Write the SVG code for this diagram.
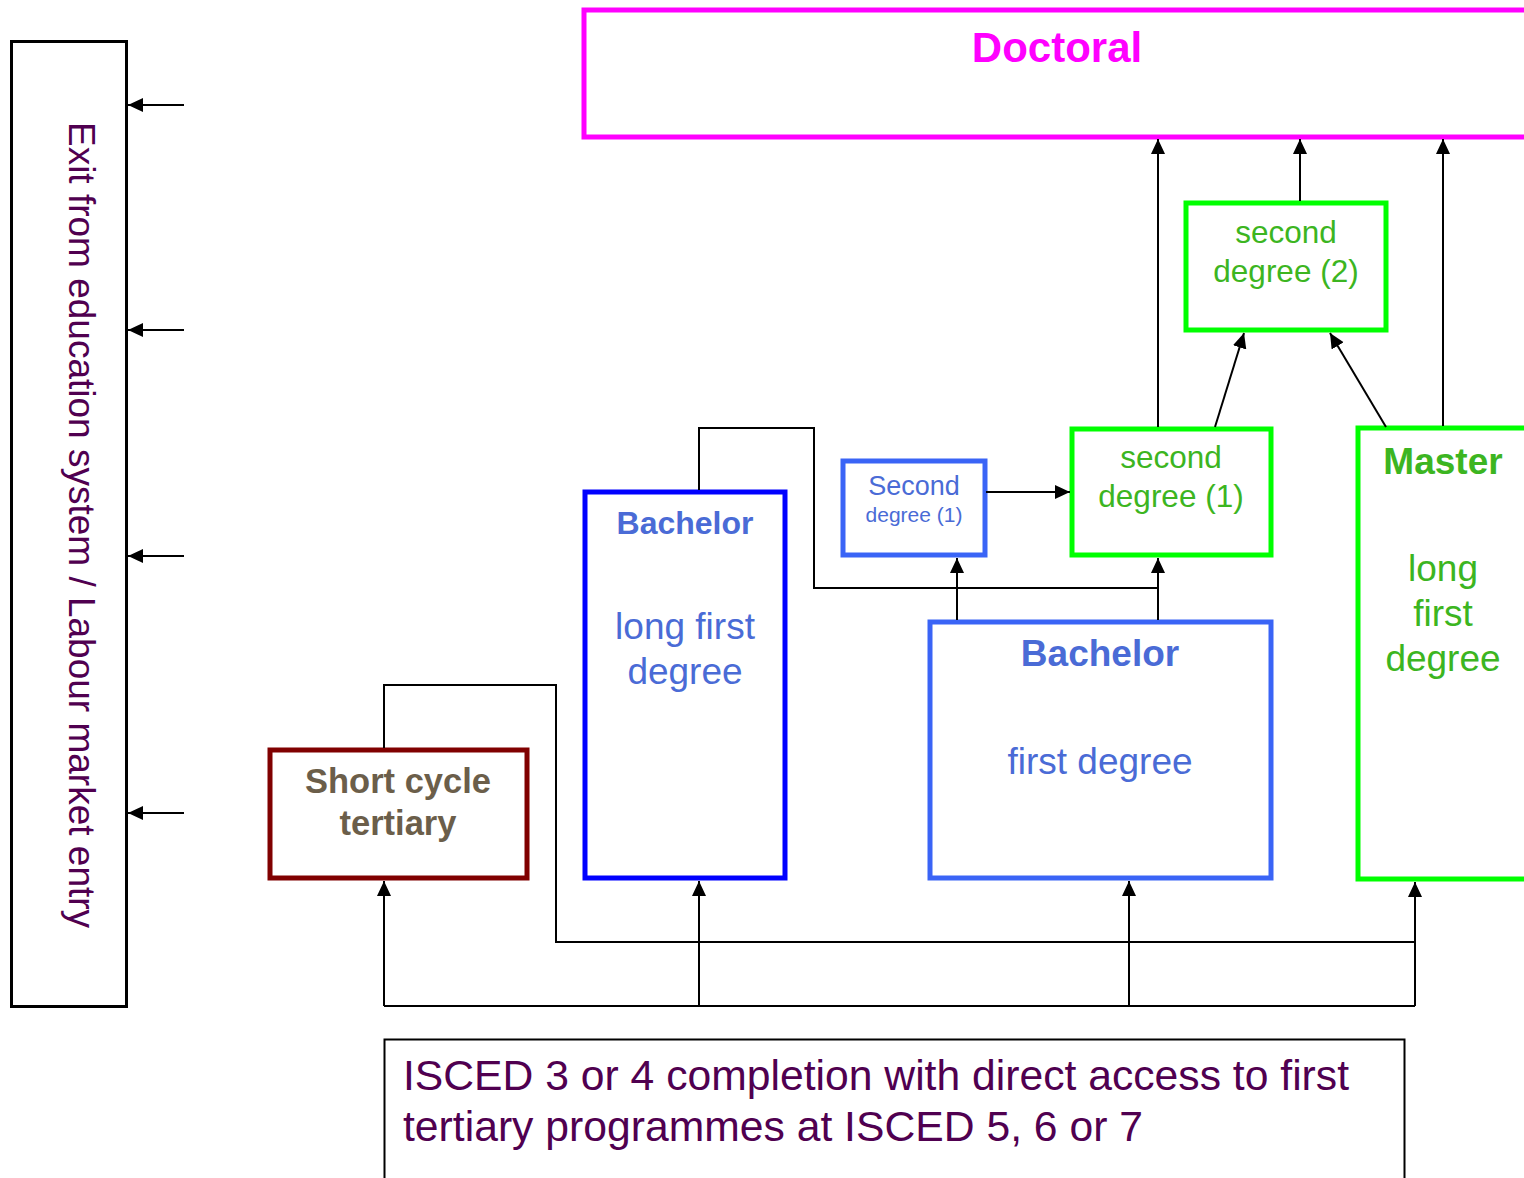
<svg xmlns="http://www.w3.org/2000/svg" width="1524" height="1178" viewBox="0 0 1524 1178">
<style>
text{font-family:"Liberation Sans",Arial,sans-serif;text-anchor:middle}
.b{font-weight:bold}
.c{fill:none;stroke:#000;stroke-width:2}
.box{fill:#fff}
.grn{fill:#3cb521}
.blu{fill:#4a6bd6}
.pur{fill:#500050}
</style>
<defs>
<marker id="ah" markerUnits="userSpaceOnUse" markerWidth="18" markerHeight="16" refX="15" refY="7" orient="auto">
<path d="M0,0 L15,7 L0,14 Z" fill="#000"/>
</marker>
</defs>
<rect width="1524" height="1178" fill="#fff"/>

<g id="exit">
<rect x="11.5" y="41.5" width="115" height="965" class="box" stroke="#000" stroke-width="3"/>
<text class="pur" font-size="37" transform="translate(80,525) rotate(90)" y="11">Exit from education system / Labour market entry</text>
</g>

<g id="doctoral">
<rect x="584" y="10" width="960" height="127" class="box" stroke="#ff00ff" stroke-width="5"/>
<text class="b" font-size="42" fill="#ff00ff" x="1057" y="62">Doctoral</text>
</g>

<g id="second2">
<rect x="1186" y="203" width="200" height="127" class="box" stroke="#00ff00" stroke-width="5"/>
<text class="grn" font-size="31.5" x="1286" y="243">second</text>
<text class="grn" font-size="31.5" x="1286" y="282">degree (2)</text>
</g>

<g id="second1green">
<rect x="1072" y="429" width="199" height="126" class="box" stroke="#00ff00" stroke-width="5"/>
<text class="grn" font-size="31.5" x="1171" y="468">second</text>
<text class="grn" font-size="31.5" x="1171" y="507">degree (1)</text>
</g>

<g id="second1blue">
<rect x="843" y="461" width="142" height="94" class="box" stroke="#3a64f6" stroke-width="5"/>
<text class="blu" font-size="27" x="914" y="495">Second</text>
<text class="blu" font-size="21" x="914" y="522">degree (1)</text>
</g>

<g id="bachelorFirst">
<rect x="930" y="622" width="341" height="256" class="box" stroke="#3a64f6" stroke-width="5"/>
<text class="blu b" font-size="37" x="1100" y="666">Bachelor</text>
<text class="blu" font-size="37" x="1100" y="774">first degree</text>
</g>

<g id="bachelorLong">
<rect x="585" y="492" width="200" height="386" class="box" stroke="#0000ff" stroke-width="5"/>
<text class="blu b" font-size="32" x="685" y="534">Bachelor</text>
<text class="blu" font-size="37" x="685" y="639">long first</text>
<text class="blu" font-size="37" x="685" y="684">degree</text>
</g>

<g id="shortCycle">
<rect x="270" y="750" width="257" height="128" class="box" stroke="#800000" stroke-width="5"/>
<text class="b" font-size="34.5" fill="#6b5e4a" x="398" y="793">Short cycle</text>
<text class="b" font-size="34.5" fill="#6b5e4a" x="398" y="835">tertiary</text>
</g>

<g id="master">
<rect x="1358" y="428" width="200" height="451" class="box" stroke="#00ff00" stroke-width="5"/>
<text class="grn b" font-size="37" x="1443" y="474">Master</text>
<text class="grn" font-size="37" x="1443" y="581">long</text>
<text class="grn" font-size="37" x="1443" y="626">first</text>
<text class="grn" font-size="37" x="1443" y="671">degree</text>
</g>

<g id="isced">
<rect x="384.5" y="1039.5" width="1020" height="160" class="box" stroke="#000" stroke-width="2"/>
<text class="pur" font-size="42" x="403" y="1090" style="text-anchor:start" textLength="946" lengthAdjust="spacingAndGlyphs">ISCED 3 or 4 completion with direct access to first</text>
<text class="pur" font-size="42" x="403" y="1141" style="text-anchor:start" textLength="740" lengthAdjust="spacingAndGlyphs">tertiary programmes at ISCED 5, 6 or 7</text>
</g>

<g id="connectors">
<line class="c" x1="184" y1="105" x2="128" y2="105" marker-end="url(#ah)"/>
<line class="c" x1="184" y1="330" x2="128" y2="330" marker-end="url(#ah)"/>
<line class="c" x1="184" y1="556" x2="128" y2="556" marker-end="url(#ah)"/>
<line class="c" x1="184" y1="813" x2="128" y2="813" marker-end="url(#ah)"/>

<line class="c" x1="1158" y1="427" x2="1158" y2="139" marker-end="url(#ah)"/>
<line class="c" x1="1300" y1="201" x2="1300" y2="139" marker-end="url(#ah)"/>
<line class="c" x1="1443" y1="426" x2="1443" y2="139" marker-end="url(#ah)"/>

<line class="c" x1="1215" y1="427" x2="1244" y2="333" marker-end="url(#ah)"/>
<line class="c" x1="1386" y1="427" x2="1330" y2="333" marker-end="url(#ah)"/>

<line class="c" x1="986" y1="492" x2="1070" y2="492" marker-end="url(#ah)"/>

<line class="c" x1="957" y1="620" x2="957" y2="558" marker-end="url(#ah)"/>
<line class="c" x1="1158" y1="620" x2="1158" y2="558" marker-end="url(#ah)"/>
<polyline class="c" points="699,490 699,428 814,428 814,588 1158,588"/>

<polyline class="c" points="384,748 384,685 556,685 556,942 1415,942"/>

<polyline class="c" points="384,1006 1415,1006"/>
<line class="c" x1="384" y1="1006" x2="384" y2="881" marker-end="url(#ah)"/>
<line class="c" x1="699" y1="1006" x2="699" y2="881" marker-end="url(#ah)"/>
<line class="c" x1="1129" y1="1006" x2="1129" y2="881" marker-end="url(#ah)"/>
<line class="c" x1="1415" y1="1006" x2="1415" y2="882" marker-end="url(#ah)"/>
</g>
</svg>
